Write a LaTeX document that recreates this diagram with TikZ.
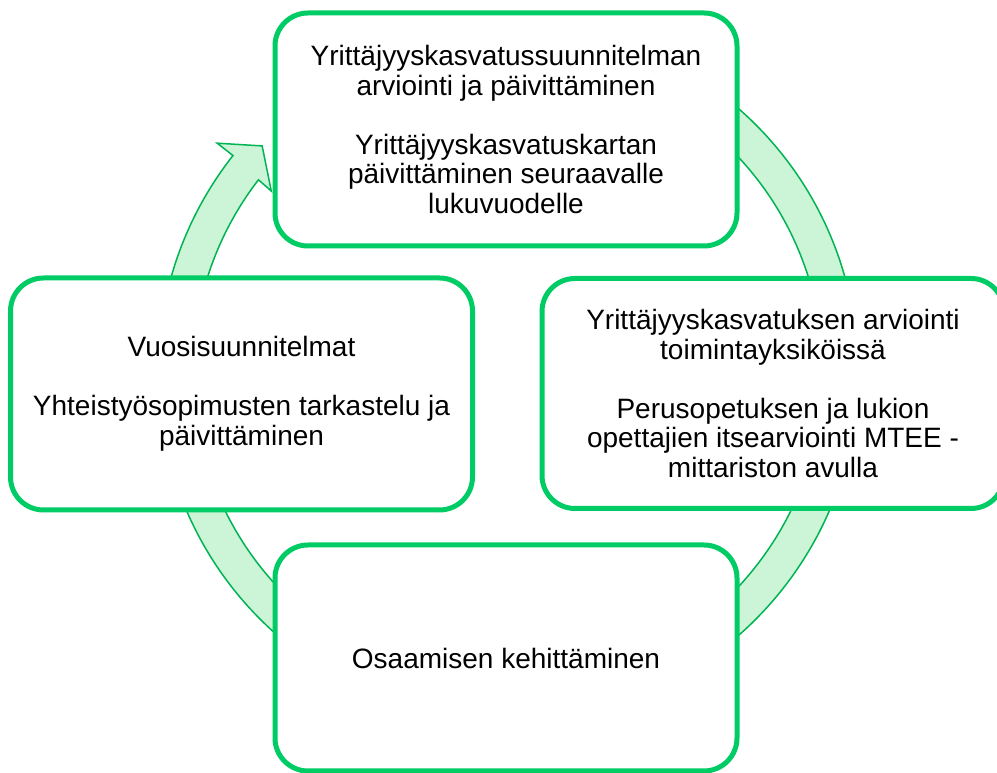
\documentclass[tikz,border=0pt]{standalone}
\usepackage{fontspec}
\setmainfont{Liberation Sans}
\usetikzlibrary{calc}
\definecolor{boxgreen}{RGB}{0,204,102}
\definecolor{ringfill}{RGB}{204,244,214}
\definecolor{ringline}{RGB}{0,180,84}
\tikzset{
  stagebox/.style={draw=boxgreen, line width=5pt, fill=white, rounded corners=33pt,
    rectangle, align=center, inner sep=0pt, minimum width=462pt,
    font=\fontsize{28}{29.5}\selectfont},
  ring/.style={fill=ringfill, draw=ringline, line width=1.5pt, line join=miter}
}
\begin{document}
\begin{tikzpicture}[x=1pt,y=1pt]
\useasboundingbox (0,0) rectangle (997,773);
\coordinate (c) at (508,401);
\path[ring] ($(c)+(100:350)$) arc[start angle=100, end angle=-218.2, radius=350]
  -- ($(c)+(-218.2:370)$) -- ($(c)+(-222.6:334)$) -- ($(c)+(-217.4:298)$)
  -- ($(c)+(-217.6:315)$) arc[start angle=-217.6, end angle=100, radius=315] -- cycle;
\node[stagebox, minimum height=233pt] (top) at (506,643.5)
  {Yrittäjyyskasvatussuunnitelman\\arviointi ja päivittäminen\\[29.5pt]Yrittäjyyskasvatuskartan\\päivittäminen seuraavalle\\lukuvuodelle};
\node[stagebox, minimum height=232pt] (left) at (241.5,379)
  {Vuosisuunnitelmat\\[29.5pt]Yhteistyösopimusten tarkastelu ja\\päivittäminen};
\node[stagebox, minimum height=230pt] (right) at (773,379.5)
  {Yrittäjyyskasvatuksen arviointi\\toimintayksiköissä\\[29.5pt]Perusopetuksen ja lukion\\opettajien itsearviointi MTEE -\\mittariston avulla};
\node[stagebox, minimum height=226pt] (bottom) at (506,115)
  {Osaamisen kehittäminen};
\end{tikzpicture}
\end{document}
